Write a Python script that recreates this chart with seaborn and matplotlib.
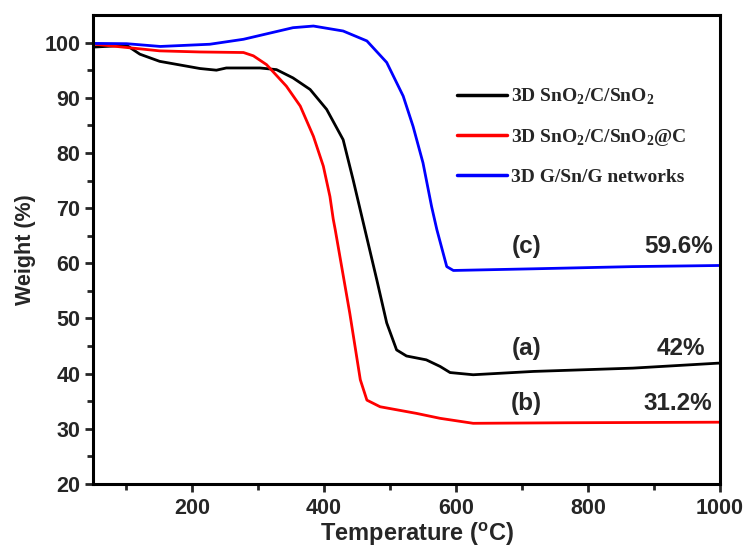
import numpy as np
import pandas as pd
import matplotlib
matplotlib.use("Agg")
import matplotlib.pyplot as plt
import seaborn as sns

# ---- data ----
temp_a = [50, 53, 101, 121, 151, 212, 237, 252, 303, 328, 353, 379, 404, 429, 444, 462,
          480, 495, 510, 525, 555, 576, 591, 626, 717, 868, 997, 1000]
weight_a = [99.3, 99.2, 99.5, 97.9, 96.6, 95.3, 95.0, 95.4, 95.4, 95.1, 93.6, 91.5, 87.9, 82.4, 75.2, 66.1,
            57.0, 49.2, 44.3, 43.2, 42.5, 41.3, 40.2, 39.8, 40.4, 41.0, 41.9, 41.9]

temp_b = [50, 53, 151, 212, 278, 293, 313, 343, 364, 384, 399, 409, 414, 417, 439, 455,
          465, 485, 540, 576, 626, 768, 997, 1000]
weight_b = [99.7, 99.7, 98.5, 98.3, 98.2, 97.6, 96.0, 92.1, 88.5, 83.0, 77.6, 72.1, 68.0, 66.1, 51.0, 38.9,
            35.2, 34.0, 32.8, 31.9, 31.0, 31.1, 31.2, 31.2]

temp_c = [50, 53, 101, 152, 227, 278, 353, 384, 429, 465, 495, 520, 535, 550, 563, 571,
          586, 596, 717, 868, 997, 1000]
weight_c = [99.85, 99.85, 99.8, 99.3, 99.7, 100.6, 102.7, 103.0, 102.1, 100.3, 96.4, 90.3, 84.8, 78.2, 70.3, 66.1,
            59.4, 58.7, 59.0, 59.4, 59.6, 59.6]

series_names = [r"3D SnO$_\mathrm{2}$/C/SnO$_\mathrm{2}$",
                r"3D SnO$_\mathrm{2}$/C/SnO$_\mathrm{2}$@C",
                "3D G/Sn/G networks"]
series_colors = ["#000000", "#ff0000", "#0000ff"]
annot_labels = ["(a)", "(b)", "(c)"]
annot_values = ["42%", "31.2%", "59.6%"]

xticks = [200, 400, 600, 800, 1000]
yticks = [20, 30, 40, 50, 60, 70, 80, 90, 100]

# ---- plotting ----
sns.set_theme(style="ticks")
plt.rcParams["font.family"] = ["Liberation Sans", "DejaVu Sans"]
plt.rcParams["mathtext.fontset"] = "custom"
plt.rcParams["mathtext.rm"] = "Liberation Serif:bold"
plt.rcParams["mathtext.sf"] = "Liberation Sans:bold"

frames = []
for name, t, w in zip(series_names, [temp_a, temp_b, temp_c], [weight_a, weight_b, weight_c]):
    frames.append(pd.DataFrame({"Temperature": t, "Weight": w, "Sample": name}))
df = pd.concat(frames, ignore_index=True)

fig = plt.figure(figsize=(7.48, 5.51), dpi=100)
ax = fig.add_axes([93 / 748, 1 - 484 / 551, (720 - 93) / 748, (484 - 15) / 551])

sns.lineplot(data=df, x="Temperature", y="Weight", hue="Sample",
             palette=dict(zip(series_names, series_colors)),
             sort=False, estimator=None, linewidth=2.0, ax=ax, legend=True)

ax.set_xlim(50, 1000)
ax.set_ylim(20, 105)
ax.set_xticks(xticks)
ax.set_yticks(yticks)
ax.set_xticklabels([str(v) for v in xticks], fontsize=15.5, fontweight="bold")
ax.set_yticklabels([str(v) for v in yticks], fontsize=15.5, fontweight="bold")
ax.set_xticks(np.arange(100, 1001, 200), minor=True)
ax.set_yticks(np.arange(25, 105, 10), minor=True)
ax.tick_params(which="major", direction="out", length=6, width=2)
ax.tick_params(which="minor", direction="out", length=4, width=2)
ax.tick_params(axis="x", which="major", pad=4)
ax.tick_params(axis="y", which="major", pad=3)
ax.tick_params(which="both", right=False, top=False)
for sp in ax.spines.values():
    sp.set_linewidth(2.2)
    sp.set_color("black")

ax.set_xlabel(r"Temperature ($^\mathsf{o}$C)", fontsize=17, fontweight="bold", labelpad=0)
ax.xaxis.set_label_coords(0.517, -0.078)
ax.set_ylabel("Weight (%)", fontsize=15.5, fontweight="bold", labelpad=6)

leg = ax.legend(loc="upper left", bbox_to_anchor=(0.552, 0.885), frameon=False,
                prop={"family": "Liberation Serif", "weight": "bold", "size": 14},
                handlelength=2.6, handletextpad=0.2, labelspacing=1.05)
for line in leg.get_lines():
    line.set_linewidth(2.5)

label_x = [707, 707, 707]
label_y = [44.6, 34.5, 63.0]
value_x = [977, 988, 989]
for lab, val, lx, vx, yy in zip(annot_labels, annot_values, label_x, value_x, label_y):
    ax.text(lx, yy, lab, fontsize=17.5, fontweight="bold", ha="center", va="center")
    ax.text(vx, yy, val, fontsize=17.5, fontweight="bold", ha="right", va="center")

fig.savefig("out.png", dpi=100)
